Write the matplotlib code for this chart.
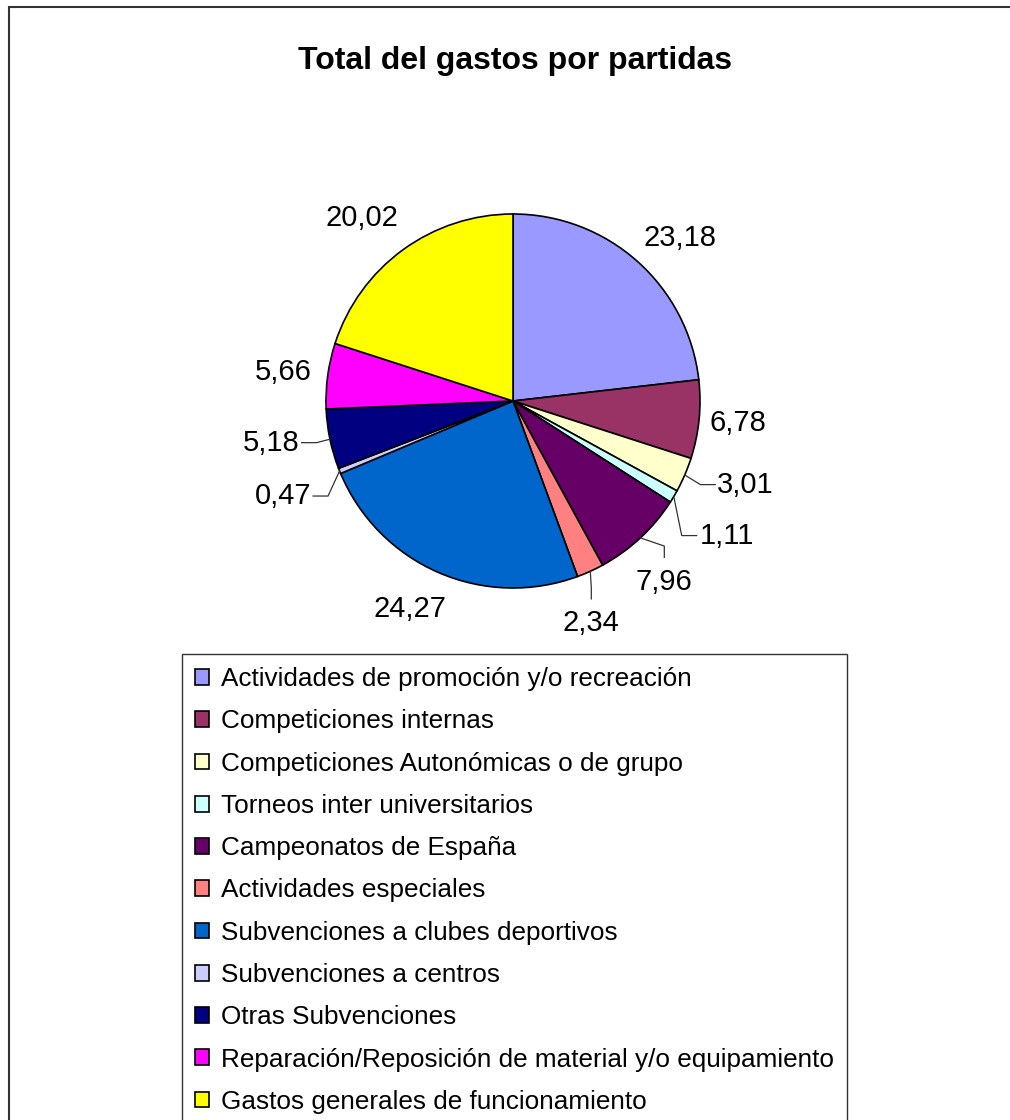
import numpy as np
import matplotlib
matplotlib.use("Agg")
import matplotlib.pyplot as plt
from matplotlib.patches import Rectangle

plt.rcParams['font.family'] = ['Liberation Sans', 'DejaVu Sans']

# data
categories = [
    "Actividades de promoción y/o recreación",
    "Competiciones internas",
    "Competiciones Autonómicas o de grupo",
    "Torneos inter universitarios",
    "Campeonatos de España",
    "Actividades especiales",
    "Subvenciones a clubes deportivos",
    "Subvenciones a centros",
    "Otras Subvenciones",
    "Reparación/Reposición de material y/o equipamiento",
    "Gastos generales de funcionamiento",
]
values = [23.18, 6.78, 3.01, 1.11, 7.96, 2.34, 24.27, 0.47, 5.18, 5.66, 20.02]
colors = ["#9999FF", "#993366", "#FFFFCC", "#CCFFFF", "#660066", "#FF8080",
          "#0066CC", "#CCCCFF", "#000080", "#FF00FF", "#FFFF00"]

# label layout (distance in radii, angle tweak in degrees, leader side)
label_dist = [1.25, 1.21, 1.32, 1.35, 1.26, 1.26, 1.24, 1.33, 1.31, 1.24, 1.27]
label_dang = [-4, 0, 3.5, -1.5, -3, -5, -3, 0.5, -2, 0.5, 3.5]
leader = [None, None, "right", "right", "down", "down", None, "left", "left", None, None]

W, H = 1010, 1120
fig = plt.figure(figsize=(W / 100, H / 100), dpi=100)

# outer chart border (only top and left visible)
fig.patches.append(Rectangle((9 / W, -0.1), 1.2, 1 - 7 / H + 0.1, transform=fig.transFigure,
                             fill=False, edgecolor="#333333", linewidth=1.5))

fig.text(515 / W, 1 - 61 / H, "Total del gastos por partidas", ha="center", va="center",
         fontsize=23, fontweight="bold")

# pie axes: centre (513, 401), radius 187 px
R = 187
half = 260
ax = fig.add_axes([(513 - half) / W, 1 - (401 + half) / H, 2 * half / W, 2 * half / H])

wedges, _ = ax.pie(values, colors=colors, startangle=90, counterclock=False,
                   wedgeprops=dict(edgecolor="black", linewidth=1.2))
lim = half / R
ax.set_xlim(-lim, lim)
ax.set_ylim(-lim, lim)
ax.set_aspect("equal")
ax.axis("off")

for i, w in enumerate(wedges):
    mid = np.deg2rad((w.theta1 + w.theta2) / 2)
    ang = mid + np.deg2rad(label_dang[i])
    lx = label_dist[i] * np.cos(ang)
    ly = label_dist[i] * np.sin(ang)
    txt = f"{values[i]:.2f}".replace(".", ",")
    ax.text(lx, ly, txt, ha="center", va="center", fontsize=21)
    if leader[i] is not None:
        ex, ey = np.cos(mid), np.sin(mid)
        if leader[i] == "right":
            px = [ex, lx - 0.24, lx - 0.16]
            py = [ey, ly, ly]
        elif leader[i] == "left":
            px = [ex, lx + 0.24, lx + 0.16]
            py = [ey, ly, ly]
        else:
            px = [ex, lx, lx]
            py = [ey, ly + 0.19, ly + 0.13]
        ax.plot(px, py, color="#333333", linewidth=0.9, solid_joinstyle="miter")

leg = fig.legend(wedges, categories, loc="upper left",
                 bbox_to_anchor=(182 / W, 1 - 654 / H), fontsize=18.8,
                 frameon=True, fancybox=False, edgecolor="black",
                 handlelength=0.55, handleheight=0.55, handletextpad=0.45,
                 labelspacing=0.7, borderpad=0.5, borderaxespad=0)
leg.get_frame().set_linewidth(1.0)

fig.savefig("out.png", dpi=100)
